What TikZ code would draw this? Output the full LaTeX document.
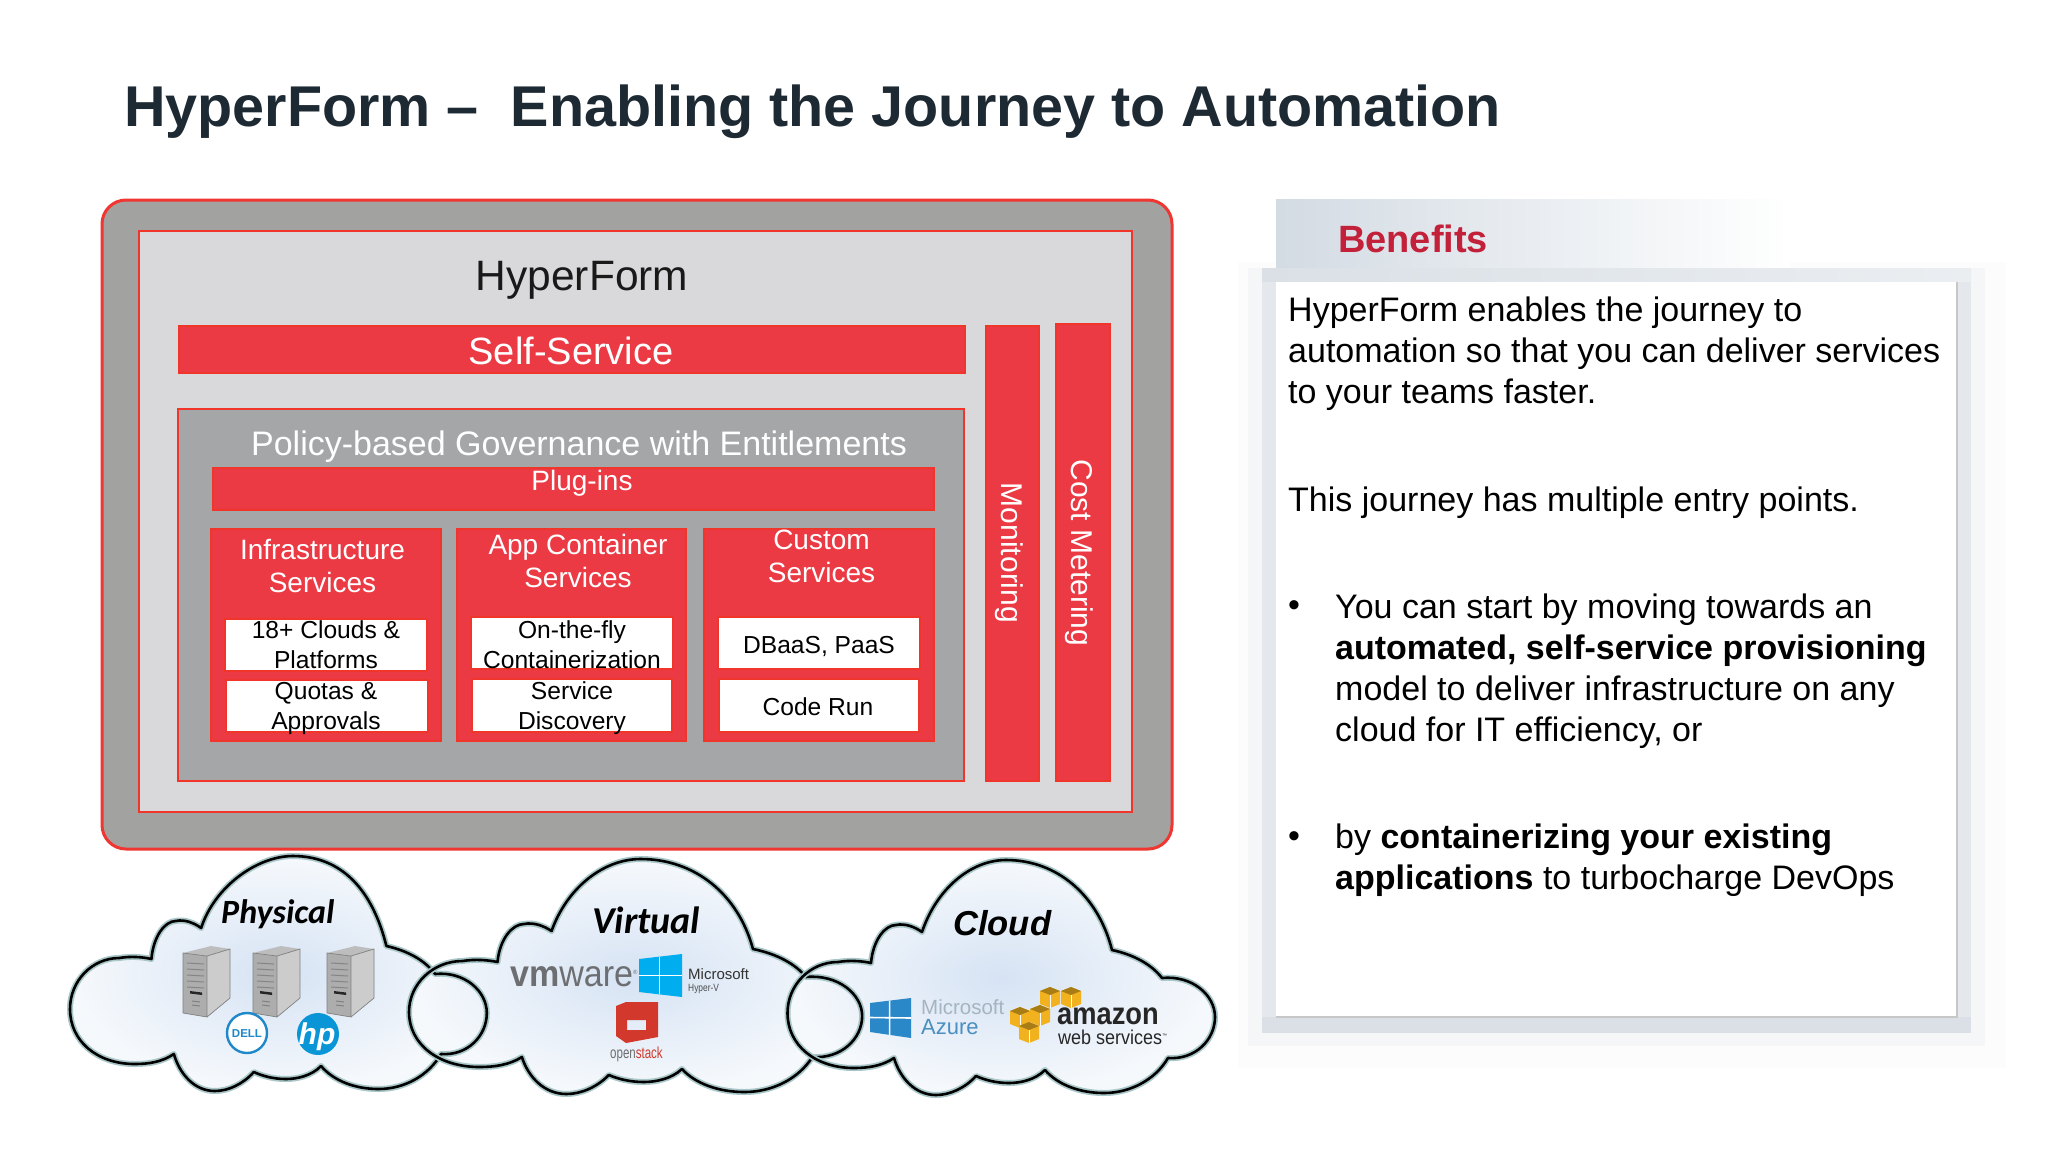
\documentclass[tikz,border=0pt]{standalone}
\usepackage{fontspec}
\setmainfont{Liberation Sans}
\newfontfamily\carlito{Carlito}
\usetikzlibrary{shadings}
\definecolor{redfill}{HTML}{EC3A45}
\definecolor{redline}{HTML}{F0352B}
\definecolor{framegray}{HTML}{A2A2A1}
\definecolor{innergray}{HTML}{D9D8DA}
\definecolor{policygray}{HTML}{A5A6A8}
\definecolor{titleink}{HTML}{1E2A33}
\definecolor{benefitred}{HTML}{C3203A}
\definecolor{band}{HTML}{DAE0E6}
\definecolor{bandside}{HTML}{E4E8EC}
\definecolor{bandtwo}{HTML}{F5F6F7}
\definecolor{bandthree}{HTML}{FCFCFD}
\definecolor{headgray}{HTML}{D3DBE3}
\definecolor{cloudmid}{HTML}{D6E3F4}
\definecolor{cloudedge}{HTML}{F6F9FC}
\definecolor{cloudrim}{HTML}{A9C6C8}
\definecolor{vmgray}{HTML}{6D6E71}
\definecolor{winblue}{HTML}{00ADEF}
\definecolor{azureblue}{HTML}{2A87C8}
\definecolor{azuretext}{HTML}{4A8FC0}
\definecolor{mslight}{HTML}{A4B4C0}
\definecolor{dellblue}{HTML}{1E88C8}
\definecolor{hpblue}{HTML}{0A96D6}
\definecolor{osred}{HTML}{D2382B}
\definecolor{awsorange}{HTML}{F2B21F}
\tikzset{
  x=1pt,y=-1pt,
  redbox/.style={fill=redfill,draw=redline,line width=1.6pt},
  whitebox/.style={fill=white,draw=redline,line width=1.6pt},
  lab/.style={inner sep=0pt,anchor=base,align=center},
  wlab/.style={lab,text=white,font=\fontsize{28}{33}\selectfont},
  blab/.style={lab,text=black,font=\fontsize{24.6}{29.5}\selectfont},
  para/.style={inner sep=0pt,anchor=base west,align=left,text=black,font=\fontsize{34}{41}\selectfont},
}
\newcommand{\cloudoutline}{
  (922,932) .. controls (936,890) and ({\topx-36},860) .. (\topx,860)
  .. controls ({\topx+51},860) and (1098,895) .. (1112,950)
  .. controls (1135,955) and (1152,965) .. (1162,978)
  .. controls (1192,975) and (1215,995) .. (1215,1017)
  .. controls (1215,1040) and (1195,1060) .. (1168,1058)
  .. controls (1155,1080) and (1130,1093) .. (1104,1093)
  .. controls (1080,1093) and (1058,1085) .. (1045,1070)
  .. controls (1035,1080) and (1020,1083) .. (1009,1083)
  .. controls (996,1083) and (985,1080) .. (976,1076)
  .. controls (965,1088) and (950,1095) .. (936,1095)
  .. controls (915,1095) and (900,1078) .. (894,1058)
  .. controls (882,1066) and (868,1068) .. (854,1068)
  .. controls (815,1068) and (787.5,1045) .. (787.5,1013)
  .. controls (787.5,985) and (810,962) .. (838,962)
  .. controls (850,960) and (862,961) .. (871,963)
  .. controls (873,940) and (885,925) .. (896,925)
  .. controls (905,923) and (915,927) .. (922,932) -- cycle}
\tikzset{
  cloudA/.style={shift={(70,-4)},xscale=.975,shift={(-787.5,0)}},
  cloudB/.style={shift={(409,-1)},xscale=1.06,shift={(-787.5,0)}},
  cloudC/.style={shift={(0,0)}},
}
\newcommand{\cloudfill}[2]{\begin{scope}[#1]\def\topx{#2}
  \path[inner color=cloudmid,outer color=cloudedge] \cloudoutline;
\end{scope}}
\newcommand{\cloudstroke}[2]{\begin{scope}[#1]\def\topx{#2}
  \draw[cloudrim,line width=6pt,line join=round] \cloudoutline;
  \draw[black,line width=2.6pt,line join=round] \cloudoutline;
\end{scope}}
\newcommand{\serverbox}[2]{\begin{scope}[shift={(#1,#2)}]
  \fill[fill=black!32] (0,8) -- (24,11) -- (24,72) -- (0,68) -- cycle;
  \fill[fill=black!20] (24,11) -- (47,4) -- (47,53) -- (24,72) -- cycle;
  \fill[fill=black!26] (0,8) -- (28,1) -- (47,4) -- (24,11) -- cycle;
  \draw[black!50,line width=.7pt] (0,8) -- (24,11) -- (24,72) -- (0,68) -- cycle (24,11) -- (47,4) -- (47,53) -- (24,72);
  \foreach \yy in {18,24,30,36,42}{\draw[black!48,line width=1pt] (4,\yy) -- (21,\yy+1);}
  \fill[black!85] (7,46) -- (19,47.5) -- (19,50) -- (7,48.5) -- cycle;
  \draw[black!50,line width=1pt] (9,56) -- (17,57) (9,60) -- (17,61);
\end{scope}}
\newcommand{\winlogo}[7]{% colour, left x, right x, left top, right top, left bottom, right bottom
  \fill[#1] (#2,#4) -- (#3,#5) -- (#3,#7) -- (#2,#6) -- cycle;
  \draw[white,line width=1.6pt] ({#2+.48*(#3-#2)},{#4+.48*(#5-#4)}) -- ({#2+.48*(#3-#2)},{#6+.48*(#7-#6)})
     (#2,{.5*(#4+#6)}) -- (#3,{.5*(#5+#7)});}
\newcommand{\awscube}[2]{\begin{scope}[shift={(#1,#2)}]
  \fill[awsorange] (-10,-6) -- (0,-10) -- (10,-6) -- (10,7) -- (0,11) -- (-10,7) -- cycle;
  \fill[awsorange!70!black] (-10,-6) -- (0,-10) -- (10,-6) -- (0,-2) -- cycle;
  \draw[white,line width=1pt] (0,-2) -- (0,11);
\end{scope}}
\begin{document}
\begin{tikzpicture}
\useasboundingbox (0,0) rectangle (2048,1152);
\fill[white] (0,0) rectangle (2048,1152);

% title
\node[lab,anchor=base west,text=titleink,font=\fontsize{57.5}{64}\selectfont\bfseries] (title) at (124,126)
  {HyperForm –\ \ Enabling the Journey to Automation};

% main panel
\draw[fill=framegray,draw=redline!80!redfill,line width=3pt,rounded corners=24pt] (102,200) rectangle (1172,849);
\draw[fill=innergray,draw=redline,line width=2pt] (139,231) rectangle (1132,812);
\node[lab,text=black!90,font=\fontsize{42.5}{48}\selectfont] (hf) at (582,290) {HyperForm};
\draw[redbox] (179,326) rectangle (965,373);
\node[lab,text=white,font=\fontsize{38}{42}\selectfont] (ss) at (571,364) {Self-Service};
\draw[redbox] (986,326) rectangle (1039,781);
\draw[redbox] (1056,324) rectangle (1110,781);
\node[lab,rotate=-90,text=white,font=\fontsize{30}{34}\selectfont] (mon) at (1001,553) {Monitoring};
\node[lab,rotate=-90,text=white,font=\fontsize{30}{34}\selectfont] (cost) at (1071,553) {Cost Metering};

% policy
\draw[fill=policygray,draw=redline,line width=2pt] (178,409) rectangle (964,781);
\node[lab,text=white,font=\fontsize{34}{40}\selectfont] (pol) at (579,455) {Policy-based Governance with Entitlements};
\draw[redbox] (213,468) rectangle (934,510);
\node[wlab] (plug) at (582,490) {Plug-ins};

% service columns
\draw[redbox] (211,529) rectangle (441,741);
\draw[redbox] (457,529) rectangle (686,741);
\draw[redbox] (704,529) rectangle (934,741);
\node[wlab] (infra) at (322.5,592) {Infrastructure\\Services};
\node[wlab] (app) at (578,587) {App Container\\Services};
\node[wlab] (cust) at (821.5,582) {Custom\\Services};

\draw[whitebox] (225,619) rectangle (427,671);
\draw[whitebox] (226,680) rectangle (428,732);
\draw[whitebox] (471,617) rectangle (673,669);
\draw[whitebox] (472,679) rectangle (672,732);
\draw[whitebox] (718,617) rectangle (920,669);
\draw[whitebox] (719,679) rectangle (919,732);
\node[blab] (b1) at (326,668) {18+ Clouds \&\\Platforms};
\node[blab] (b2) at (326,729) {Quotas \&\\Approvals};
\node[blab] (b3) at (572,668) {On-the-fly\\Containerization};
\node[blab] (b4) at (572,729) {Service\\Discovery};
\node[blab] (b5) at (819,653) {DBaaS, PaaS};
\node[blab] (b6) at (818,715) {Code Run};

% benefits panel
\fill[bandthree] (1238,262) rectangle (2006,1068);
\fill[bandtwo] (1248,268) rectangle (1985,1046);
\shade[left color=headgray,right color=white] (1276,199) rectangle (1790,270);
\shade[left color=band,right color=band!55!white] (1262,268) rectangle (1971,282);
\fill[bandside] (1262,282) rectangle (1276,1017);
\fill[bandside] (1957,282) rectangle (1971,1017);
\fill[band] (1262,1017) rectangle (1971,1033);
\fill[white] (1276,282) rectangle (1957,1017);
\draw[black!22,line width=1.2pt] (1276,1017) -- (1957,1017) -- (1957,282);
\node[lab,anchor=base west,text=benefitred,font=\fontsize{38}{42}\selectfont\bfseries] (ben) at (1338,252) {Benefits};
\node[para] (p1) at (1288,403) {HyperForm enables the journey to\\automation so that you can deliver services\\to your teams faster.};
\node[para] (p2) at (1288,511) {This journey has multiple entry points.};
\node[para] (bl1) at (1288,616) {•};
\node[para] (p3) at (1335,741) {You can start by moving towards an\\\textbf{automated, self-service provisioning}\\model to deliver infrastructure on any\\cloud for IT efficiency, or};
\node[para] (bl2) at (1288,847) {•};
\node[para] (p4) at (1335,889) {by \textbf{containerizing your existing}\\\textbf{applications} to turbocharge DevOps};

% clouds
\cloudfill{cloudA}{1016}
\cloudfill{cloudB}{1006}
\cloudfill{cloudC}{1006}
\cloudstroke{cloudA}{1016}
\cloudstroke{cloudB}{1006}
\cloudstroke{cloudC}{1006}
\node[lab,anchor=base west,font=\carlito\fontsize{34}{38}\selectfont\bfseries\itshape] (phys) at (221,923) {Physical};
\node[lab,anchor=base west,font=\carlito\fontsize{38}{42}\selectfont\bfseries\itshape] (virt) at (592,933) {Virtual};
\node[lab,anchor=base west,font=\fontsize{34.6}{40}\selectfont\bfseries\itshape] (cloud) at (953,935) {Cloud};

% physical logos
\serverbox{183}{945}
\serverbox{253}{945}
\serverbox{327}{945}
\draw[dellblue,line width=2.4pt,fill=white] (247,1033) circle [radius=20];
\node[lab,text=dellblue,font=\fontsize{11.5}{12}\selectfont\bfseries] (dell) at (247,1037) {DELL};
\fill[hpblue] (318,1034) circle [radius=21];
\node[lab,text=white,font=\fontsize{30}{32}\selectfont\bfseries\itshape] (hp) at (317,1044) {hp};

% virtual logos
\node[lab,anchor=base west,text=vmgray,font=\fontsize{37}{40}\selectfont] (vm) at (510,986) {\scalebox{.92}[1]{\textbf{vm}ware}\raisebox{12pt}{\fontsize{6}{6}\selectfont®}};
\winlogo{winblue}{639}{682}{959}{954}{992}{997}
\node[lab,anchor=base west,text=black!80,font=\fontsize{15}{17}\selectfont] (ms) at (688,979) {Microsoft};
\node[lab,anchor=base west,text=black!70,font=\fontsize{10.5}{12}\selectfont] (hv) at (688,991) {\scalebox{.8}[1]{Hyper-V}};
\fill[osred,even odd rule] (616,1006) -- (626,1002) -- (658,1002) -- (658,1037) -- (626,1043) -- (616,1036) -- cycle
   (627,1020) rectangle (646,1030);
\node[lab,anchor=base west,font=\fontsize{16}{18}\selectfont] (os) at (610,1058) {\scalebox{.72}[1]{\textcolor{vmgray}{open}\textcolor{osred}{stack}}};

% cloud logos
\winlogo{azureblue}{870}{911}{1003}{998}{1032}{1038}
\node[lab,anchor=base west,text=mslight,font=\fontsize{20.5}{24}\selectfont] (msa) at (921,1014) {Microsoft};
\node[lab,anchor=base west,text=azuretext,font=\fontsize{22}{25}\selectfont] (az) at (921,1034) {Azure};
\awscube{1050}{997}
\awscube{1071}{997}
\awscube{1020}{1017}
\awscube{1040}{1015}
\awscube{1029}{1032}
\node[lab,anchor=base west,text=black!85,font=\fontsize{31}{34}\selectfont\bfseries] (amz) at (1057,1024) {\scalebox{.88}[1]{amazon}};
\node[lab,anchor=base west,text=black!85,font=\fontsize{20}{24}\selectfont] (aws) at (1058,1044) {\scalebox{.9}[1]{web services}\raisebox{7pt}{\fontsize{5}{5}\selectfont™}};
\end{tikzpicture}
\end{document}
